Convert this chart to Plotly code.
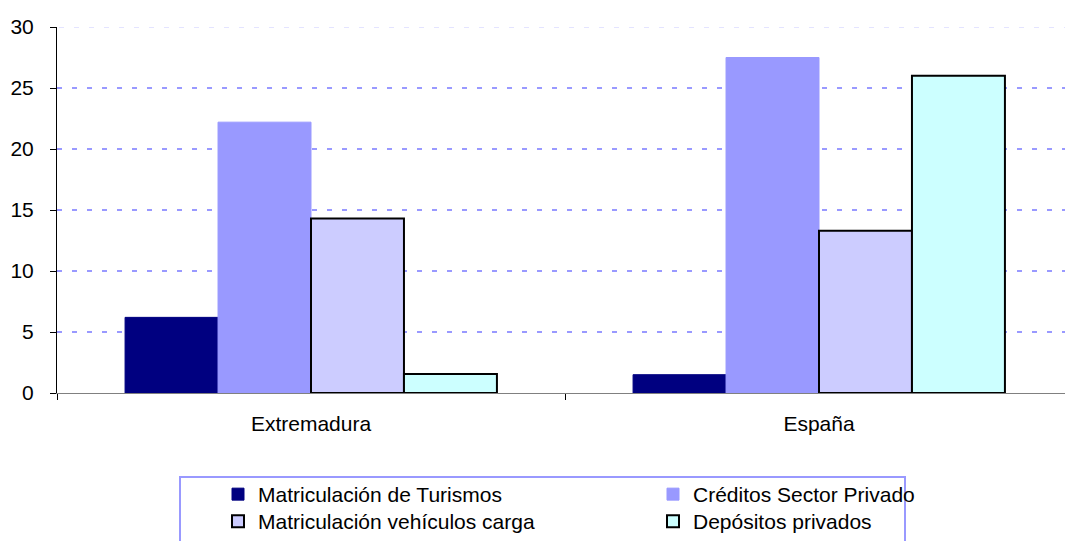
import plotly.graph_objects as go

categories = ["Extremadura", "España"]
series_names = ["Matriculación de Turismos", "Créditos Sector Privado",
                "Matriculación vehículos carga", "Depósitos privados"]
turismos = [6.2, 1.5]
creditos = [22.2, 27.5]
carga = [14.3, 13.3]
depositos = [1.55, 26.0]
y_ticks = [0, 5, 10, 15, 20, 25, 30]

values = [turismos, creditos, carga, depositos]
fills = ["#000080", "#9999FF", "#CCCCFF", "#CCFFFF"]
lines = ["#000080", "#9999FF", "#000000", "#000000"]
lwidths = [1, 1, 2, 2]
legend_ids = ["legend", "legend2", "legend3", "legend4"]

FONT = "Liberation Sans, Arial, sans-serif"

fig = go.Figure()
for name, vals, fc, lc, lw, lg in zip(series_names, values, fills, lines, lwidths, legend_ids):
    fig.add_trace(go.Bar(x=categories, y=vals, name=name, legend=lg,
                         marker=dict(color=fc, line=dict(color=lc, width=lw))))

# body margin removed by post_script; figure coordinates = page coordinates
W, H = 1065, 541
L, T = 57, 27
Y0 = 393          # pixel row of the zero line
B = H - Y0
pw = W - L
ph = Y0 - T

def px(xp):
    return (xp - L) / pw

def py(yp):
    return (Y0 - yp) / ph

def leg(xp, yp):
    return dict(x=px(xp), y=py(yp), orientation="v", xanchor="left", yanchor="top",
                font=dict(family=FONT, size=21, color="#000000"),
                bgcolor="rgba(0,0,0,0)", borderwidth=0,
                tracegroupgap=0, itemwidth=30, traceorder="normal")

fig.update_layout(
    width=W, height=H,
    margin=dict(l=L, r=0, t=T, b=B, pad=0, autoexpand=False),
    paper_bgcolor="white", plot_bgcolor="white",
    barmode="group", bargap=0.268, bargroupgap=0,
    font=dict(family=FONT, color="#000000", size=21),
    showlegend=True,
    legend=leg(218, 474),
    legend2=leg(653, 474),
    legend3=leg(218, 501),
    legend4=leg(653, 501),
    xaxis=dict(range=[-0.5, -0.5 + pw / 508.0], showgrid=False,
               showline=True, linecolor="#808080", linewidth=1,
               ticks="outside", tickson="boundaries", ticklen=6,
               tickcolor="#000000", tickfont=dict(size=21),
               ticklabelstandoff=12, fixedrange=True),
    yaxis=dict(range=[0, 30], tickvals=y_ticks, showgrid=True,
               gridcolor="#9999FF", griddash="5px,10px", gridwidth=2,
               showline=True, linecolor="#000000", linewidth=1,
               ticks="outside", ticklen=6, tickcolor="#000000",
               tickfont=dict(size=21), ticklabelstandoff=12,
               zeroline=False, fixedrange=True),
    shapes=[
        dict(type="rect", xref="paper", yref="paper",
             x0=px(180), x1=px(905), y0=py(477), y1=py(580),
             line=dict(color="#9999FF", width=2), fillcolor="rgba(0,0,0,0)"),
        dict(type="line", xref="paper", yref="y", x0=0.002, x1=1, y0=30, y1=30,
             line=dict(color="#E4E4FF", width=2, dash="5px,10px"), layer="above"),
    ],
)

fig.write_html("out.html",
               config={"displayModeBar": False, "staticPlot": True},
               post_script="document.body.style.margin='0';"
                           "document.body.style.overflow='hidden';")
